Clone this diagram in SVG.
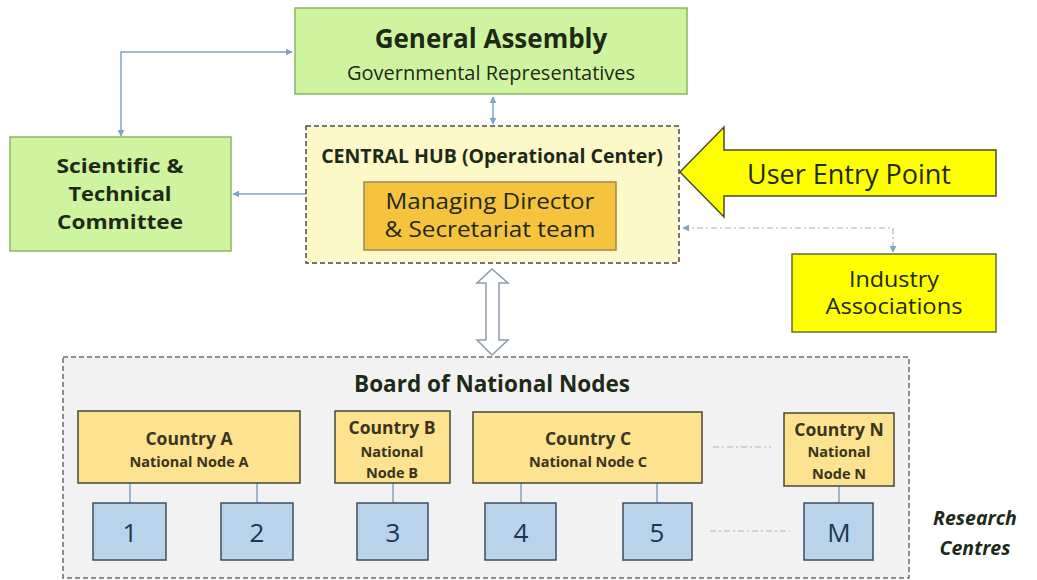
<svg xmlns="http://www.w3.org/2000/svg" width="1037" height="580" viewBox="0 0 1037 580">
<defs>
<style>
text{font-family:"Open Sans","Noto Sans","Liberation Sans",sans-serif;fill:#1e2a18;text-anchor:middle;dominant-baseline:central}
.green{fill:#cff49f;stroke:#8cb46a;stroke-width:1.5}
.bold{font-weight:bold}
.country{fill:#fde28f;stroke:#4a4636;stroke-width:1.5}
.rc{fill:#b8d3ea;stroke:#3c4d60;stroke-width:1.5}
.rc-t{font-size:26px;fill:#1f3550}
.link{stroke:#7ea3c7;stroke-width:1.5;fill:none}
.dd{stroke:#9fb6cc;stroke-width:1.2;fill:none;stroke-dasharray:6 3 2 3}
.ct{font-size:17.5px;font-weight:bold;fill:#3a3420}
.cs{font-size:14.5px;font-weight:bold;fill:#3a3420}
.stc{font-size:20px;font-weight:bold}
.md{font-size:21px}
.ind{font-size:21px}
</style>
<marker id="ah" viewBox="0 0 10 10" refX="9" refY="5" markerWidth="7" markerHeight="7" orient="auto-start-reverse" markerUnits="userSpaceOnUse">
<path d="M0,0 L10,5 L0,10 z" fill="#7ea3c7"/>
</marker>
</defs>
<rect width="1037" height="580" fill="#ffffff"/>

<g id="board">
<rect x="63" y="357" width="846" height="221" fill="#f2f2f2" stroke="#6d6d6d" stroke-width="1.5" stroke-dasharray="5 3"/>
<text x="492" y="383" class="bold" font-size="22.5">Board of National Nodes</text>
</g>

<g id="connectors">
<polyline class="link" points="121,136 121,52 292,52" marker-start="url(#ah)" marker-end="url(#ah)"/>
<line class="link" x1="493" y1="97" x2="493" y2="124" marker-start="url(#ah)" marker-end="url(#ah)"/>
<line class="link" x1="306" y1="194" x2="233" y2="194" marker-end="url(#ah)"/>
<polyline class="dd" points="683,228 893,228 893,252" marker-start="url(#ah)" marker-end="url(#ah)" stroke="#8aa8c8"/>
<path d="M492,269 L508,283 L499,283 L499,340 L508,340 L492,355 L477,340 L486,340 L486,283 L477,283 Z" fill="#ffffff" stroke="#8e9aa8" stroke-width="1.5"/>
<line class="link" x1="130" y1="483" x2="130" y2="503"/>
<line class="link" x1="257" y1="483" x2="257" y2="503"/>
<line class="link" x1="393" y1="483" x2="393" y2="503"/>
<line class="link" x1="521" y1="483" x2="521" y2="503"/>
<line class="link" x1="657" y1="483" x2="657" y2="503"/>
<line class="link" x1="839" y1="486" x2="839" y2="503"/>
<line class="dd" x1="713" y1="447" x2="771" y2="447"/>
<line class="dd" x1="710" y1="531" x2="790" y2="531"/>
</g>

<g id="general-assembly">
<rect class="green" x="295" y="8" width="392" height="86"/>
<text x="491" y="38" class="bold" font-size="26">General Assembly</text>
<text x="491" y="72" font-size="20">Governmental Representatives</text>
</g>

<g id="stc">
<rect class="green" x="10" y="137" width="221" height="114"/>
<text x="120" y="165" class="stc" textLength="127" lengthAdjust="spacingAndGlyphs">Scientific &amp;</text>
<text x="120" y="193" class="stc" textLength="103" lengthAdjust="spacingAndGlyphs">Technical</text>
<text x="120" y="221" class="stc" textLength="126" lengthAdjust="spacingAndGlyphs">Committee</text>
</g>

<g id="central-hub">
<rect x="306" y="126" width="373" height="137" fill="#fdf8c8" stroke="#4a4a4a" stroke-width="1.5" stroke-dasharray="5 3"/>
<text x="492" y="155" class="bold" font-size="19.5">CENTRAL HUB (Operational Center)</text>
</g>

<g id="managing-director">
<rect x="364" y="182" width="252" height="68" fill="#f6c33f" stroke="#9c8a52" stroke-width="1.5"/>
<text x="490" y="201" class="md" textLength="209" lengthAdjust="spacingAndGlyphs">Managing Director</text>
<text x="490" y="229" class="md" textLength="211" lengthAdjust="spacingAndGlyphs">&amp; Secretariat team</text>
</g>

<g id="user-entry-point">
<path d="M680,172 L724,127 L724,150 L996,150 L996,196 L724,196 L724,217 Z" fill="#ffff00" stroke="#4a4a2a" stroke-width="1.5"/>
<text x="849" y="173" font-size="27">User Entry Point</text>
</g>

<g id="industry">
<rect x="792" y="254" width="204" height="78" fill="#ffff00" stroke="#6a6a40" stroke-width="1.5"/>
<text x="894" y="279" class="ind" textLength="90" lengthAdjust="spacingAndGlyphs">Industry</text>
<text x="894" y="306" class="ind" textLength="137" lengthAdjust="spacingAndGlyphs">Associations</text>
</g>

<g id="country-a">
<rect class="country" x="78" y="411" width="222" height="72"/>
<text x="189" y="438" class="ct">Country A</text>
<text x="189" y="461" class="cs">National Node A</text>
</g>
<g id="country-b">
<rect class="country" x="335" y="411" width="115" height="72"/>
<text x="392" y="427" class="ct">Country B</text>
<text x="392" y="451" class="cs">National</text>
<text x="392" y="472" class="cs">Node B</text>
</g>
<g id="country-c">
<rect class="country" x="473" y="412" width="229" height="71"/>
<text x="588" y="438" class="ct">Country C</text>
<text x="588" y="461" class="cs">National Node C</text>
</g>
<g id="country-n">
<rect class="country" x="784" y="413" width="110" height="73"/>
<text x="839" y="429" class="ct">Country N</text>
<text x="839" y="451" class="cs">National</text>
<text x="839" y="473" class="cs">Node N</text>
</g>

<g id="rc-1"><rect class="rc" x="93" y="503" width="73" height="57"/><text x="130" y="532" class="rc-t">1</text></g>
<g id="rc-2"><rect class="rc" x="221" y="503" width="72" height="57"/><text x="257" y="532" class="rc-t">2</text></g>
<g id="rc-3"><rect class="rc" x="357" y="503" width="71" height="57"/><text x="393" y="532" class="rc-t">3</text></g>
<g id="rc-4"><rect class="rc" x="485" y="503" width="71" height="57"/><text x="521" y="532" class="rc-t">4</text></g>
<g id="rc-5"><rect class="rc" x="623" y="503" width="69" height="57"/><text x="657" y="532" class="rc-t">5</text></g>
<g id="rc-m"><rect class="rc" x="804" y="503" width="69" height="57"/><text x="839" y="532" class="rc-t">M</text></g>

<g id="research-label">
<text x="975" y="517" class="bold" font-style="italic" font-size="19.5">Research</text>
<text x="975" y="547" class="bold" font-style="italic" font-size="19.5">Centres</text>
</g>
</svg>
